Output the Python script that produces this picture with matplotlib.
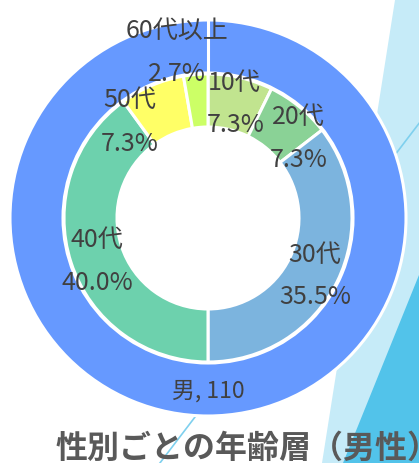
import matplotlib
matplotlib.use("Agg")
import matplotlib.pyplot as plt
from matplotlib.patches import Polygon

plt.rcParams['font.family'] = ['Noto Sans CJK JP', 'DejaVu Sans']

# ---- data ----
gender_labels = ["男"]
gender_values = [110]
age_labels = ["10代", "20代", "30代", "40代", "50代", "60代以上"]
age_values = [8, 8, 39, 44, 8, 3]
age_pct = ["7.3%", "7.3%", "35.5%", "40.0%", "7.3%", "2.7%"]
title = "性別ごとの年齢層（男性）"

# ---- style ----
W, H = 419, 463
outer_color = ["#6699FF"]
age_colors = ["#C1E48F", "#8AD296", "#7CB4DE", "#6DD1AD", "#FFFF66", "#CCFF66"]
text_color = "#404040"
cx, cy = 208, H - 218
R_out, R_mid, R_in = 198, 145, 91

# label positions in image pixels (name, pct)
label_pos = [((234, 83), (236, 125)),
             ((298, 117), (299, 160)),
             ((315, 255), (315, 297)),
             ((97, 240), (97, 283)),
             ((130, 100), (130, 144)),
             ((177, 31), (177, 74))]

fig = plt.figure(figsize=(W / 100, H / 100), dpi=100)
ax = fig.add_axes([0, 0, 1, 1])

# background decorations
ax.add_patch(Polygon([(395, H - 0), (W, H), (W, 0), (322, 0)], closed=True,
                     facecolor="#C6EBF8", edgecolor="none", zorder=0))
ax.add_patch(Polygon([(W, H - 275), (W, 0), (343, 0)], closed=True,
                     facecolor="#52C3EA", edgecolor="none", zorder=0.1))
ax.plot([430, 150], [H - 109, H - 476], color="#7FD0EE", lw=1.2, zorder=0.2)

# outer ring
ax.pie(gender_values, colors=outer_color, radius=R_out, center=(cx, cy),
       startangle=90, counterclock=False, frame=True,
       wedgeprops=dict(width=R_out - R_mid, edgecolor="white", linewidth=2.2))
ax.plot([cx, cx], [cy + R_mid, cy + R_out], color="white", lw=2.2, zorder=5)

# inner ring
ax.pie(age_values, colors=age_colors, radius=R_mid - 1, center=(cx, cy),
       startangle=90, counterclock=False, frame=True,
       wedgeprops=dict(width=R_mid - 1 - R_in, edgecolor="white", linewidth=2.2))

for lab, pct, (p1, p2) in zip(age_labels, age_pct, label_pos):
    ax.text(p1[0], H - p1[1], lab, ha="center", va="center", fontsize=18,
            color=text_color, zorder=10)
    ax.text(p2[0], H - p2[1], pct, ha="center", va="center", fontsize=18,
            color=text_color, zorder=10)

ax.text(cx, H - 391, f"{gender_labels[0]}, {gender_values[0]}", ha="center",
        va="center", fontsize=16.5, color=text_color, zorder=10)

ax.text(55, H - 449, title, ha="left", va="center", fontsize=23,
        fontweight="bold", color="#595959", zorder=10)

ax.set_xlim(0, W)
ax.set_ylim(0, H)
ax.set_aspect("auto")
ax.axis("off")
fig.savefig("out.png", dpi=100)
